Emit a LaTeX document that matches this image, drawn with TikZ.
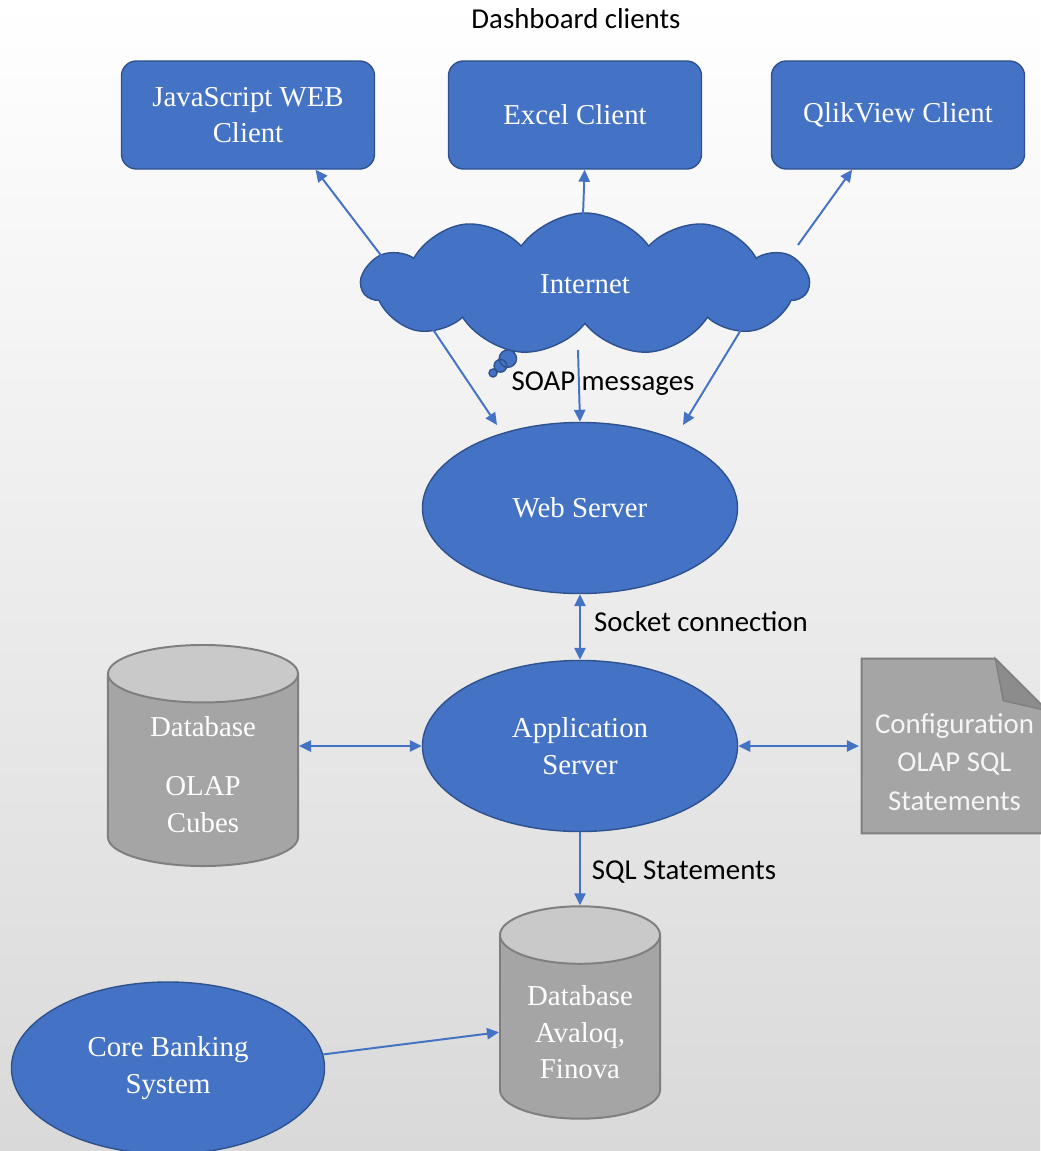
\documentclass[tikz,border=0pt]{standalone}
\usepackage{fontspec}
\setmainfont{Liberation Serif}
\newfontfamily\calibri{Carlito}
\usetikzlibrary{positioning,calc,arrows.meta,shapes.geometric,shapes.symbols,shapes.callouts}
\definecolor{msblue}{HTML}{4472C4}
\definecolor{msedge}{HTML}{2F528F}
\definecolor{dbbody}{HTML}{A5A5A5}
\definecolor{dbtop}{HTML}{C9C9C9}
\definecolor{dbedge}{HTML}{7F7F7F}
\definecolor{foldg}{HTML}{8C8C8C}
\definecolor{bgbot}{HTML}{D9D9D9}
\pgfdeclarelayer{back}
\pgfdeclarelayer{bg}
\pgfsetlayers{back,bg,main}

\begin{document}
\begin{tikzpicture}[
    x=0.025cm, y=-0.025cm,
    txt/.style={font=\fontsize{20.5}{26}\selectfont, text=white, align=center},
    client/.style={txt, draw=msedge, fill=msblue, line width=1pt, rounded corners=0.375cm, minimum width=6.325cm, minimum height=2.7cm},
    server/.style={txt, ellipse, draw=msedge, fill=msblue, line width=1pt, minimum width=7.875cm, minimum height=4.275cm},
    db/.style={txt, cylinder, shape border rotate=90, aspect=0.5, anchor=shape center, draw=dbedge, line width=1.4pt, cylinder uses custom fill, cylinder body fill=dbbody, cylinder end fill=dbtop},
    docbox/.style={font=\calibri\fontsize{20.5}{27.5}\selectfont, text=white!92!gray, align=center, minimum width=4.625cm, minimum height=4.35cm},
    lbl/.style={font=\calibri\fontsize{20.5}{26}\selectfont},
    arr/.style={-{Triangle[length=3mm,width=2.8mm]}, msblue, line width=1.4pt},
    darr/.style={arr, {Triangle[length=3mm,width=2.8mm]}-{Triangle[length=3mm,width=2.8mm]}}
]
  \useasboundingbox (0,0) rectangle (1040,1151);
  \begin{pgfonlayer}{back}
    \shade[top color=white, bottom color=bgbot] (0,0) rectangle (1040,1151);
  \end{pgfonlayer}

  % clients
  \node[lbl] (dash) at (576,19) {Dashboard clients};
  \node[client] (js) at (248,115) {JavaScript WEB\\Client};
  \node[client] (exl) at (575,115) {Excel Client};
  \node[client] (qlk) at (898,115) {QlikView Client};

  % internet
  \node[txt, cloud callout, cloud puffs=11, cloud puff arc=110, aspect=3,
        draw=msedge, fill=msblue, line width=1pt,
        minimum width=11.15cm, minimum height=3.55cm,
        callout absolute pointer={(493,373)},
        callout pointer start size=0.55cm, callout pointer end size=0.2cm,
        callout pointer segments=3] (inet) at (585,284) {Internet};
  \draw[arr] ($(inet.center)+(-202,-26)$) -- (js.-39);
  \draw[arr] ($(inet.center)+(-2,-69)$) -- (exl.-80);
  \draw[arr] ($(inet.center)+(213,-39)$) -- (qlk.-130);

  % servers
  \node[server] (web) at (580,508) {Web Server};
  \node[server] (app) at (580,746) {Application\\Server};
  \draw[arr] ($(inet.center)+(-153,44)$) -- ($(web.center)+(-83,-83)$);
  \draw[arr] ($(inet.center)+(-7,66)$) -- (web.north);
  \draw[arr] ($(inet.center)+(165,31)$) -- ($(web.center)+(103,-83)$);
  \node[lbl] (soap) at (603,384) {SOAP messages};
  \draw[darr] (web.south) -- (app.north);
  \node[lbl] (sock) at (701,622) {Socket connection};

  % storage
  \node[db, minimum width=4.75cm, minimum height=5.525cm] (olap) at (203,755.5) {Database\\[16pt]OLAP\\Cubes};
  \node[docbox] (cfg) at (954.5,762) {Configuration\\OLAP SQL\\Statements};
  \begin{pgfonlayer}{bg}
    \draw[dbedge, fill=dbbody, line width=1.4pt] ([yshift=0.4cm]cfg.south west) -- ([yshift=0.4cm]cfg.north west)
      -- ([xshift=-1.3cm,yshift=0.4cm]cfg.north east) -- ([yshift=-0.9cm]cfg.north east)
      -- ([yshift=0.4cm]cfg.south east) -- cycle;
    \draw[dbedge, fill=foldg, line width=1pt] ([xshift=-1.3cm,yshift=0.4cm]cfg.north east)
      -- ([xshift=-1.1cm,yshift=-0.65cm]cfg.north east) -- ([yshift=-0.9cm]cfg.north east) -- cycle;
  \end{pgfonlayer}
  \draw[darr] (app.west -| olap.east) -- (app.west);
  \draw[darr] (app.east) -- ([xshift=-2pt]app.east -| cfg.west);

  \node[db, minimum width=4cm, minimum height=5.31cm] (ava) at (580,1012.5) {Database\\Avaloq,\\Finova};
  \draw[arr] (app.south) -- (ava.north);
  \node[lbl] (sqlst) at (684,872) {SQL Statements};

  \node[server, minimum width=7.825cm, minimum height=4.3cm] (core) at (168,1068) {\\[-12pt]Core Banking\\System};
  \draw[arr] (core.5) -- (ava.west);
\end{tikzpicture}
\end{document}
